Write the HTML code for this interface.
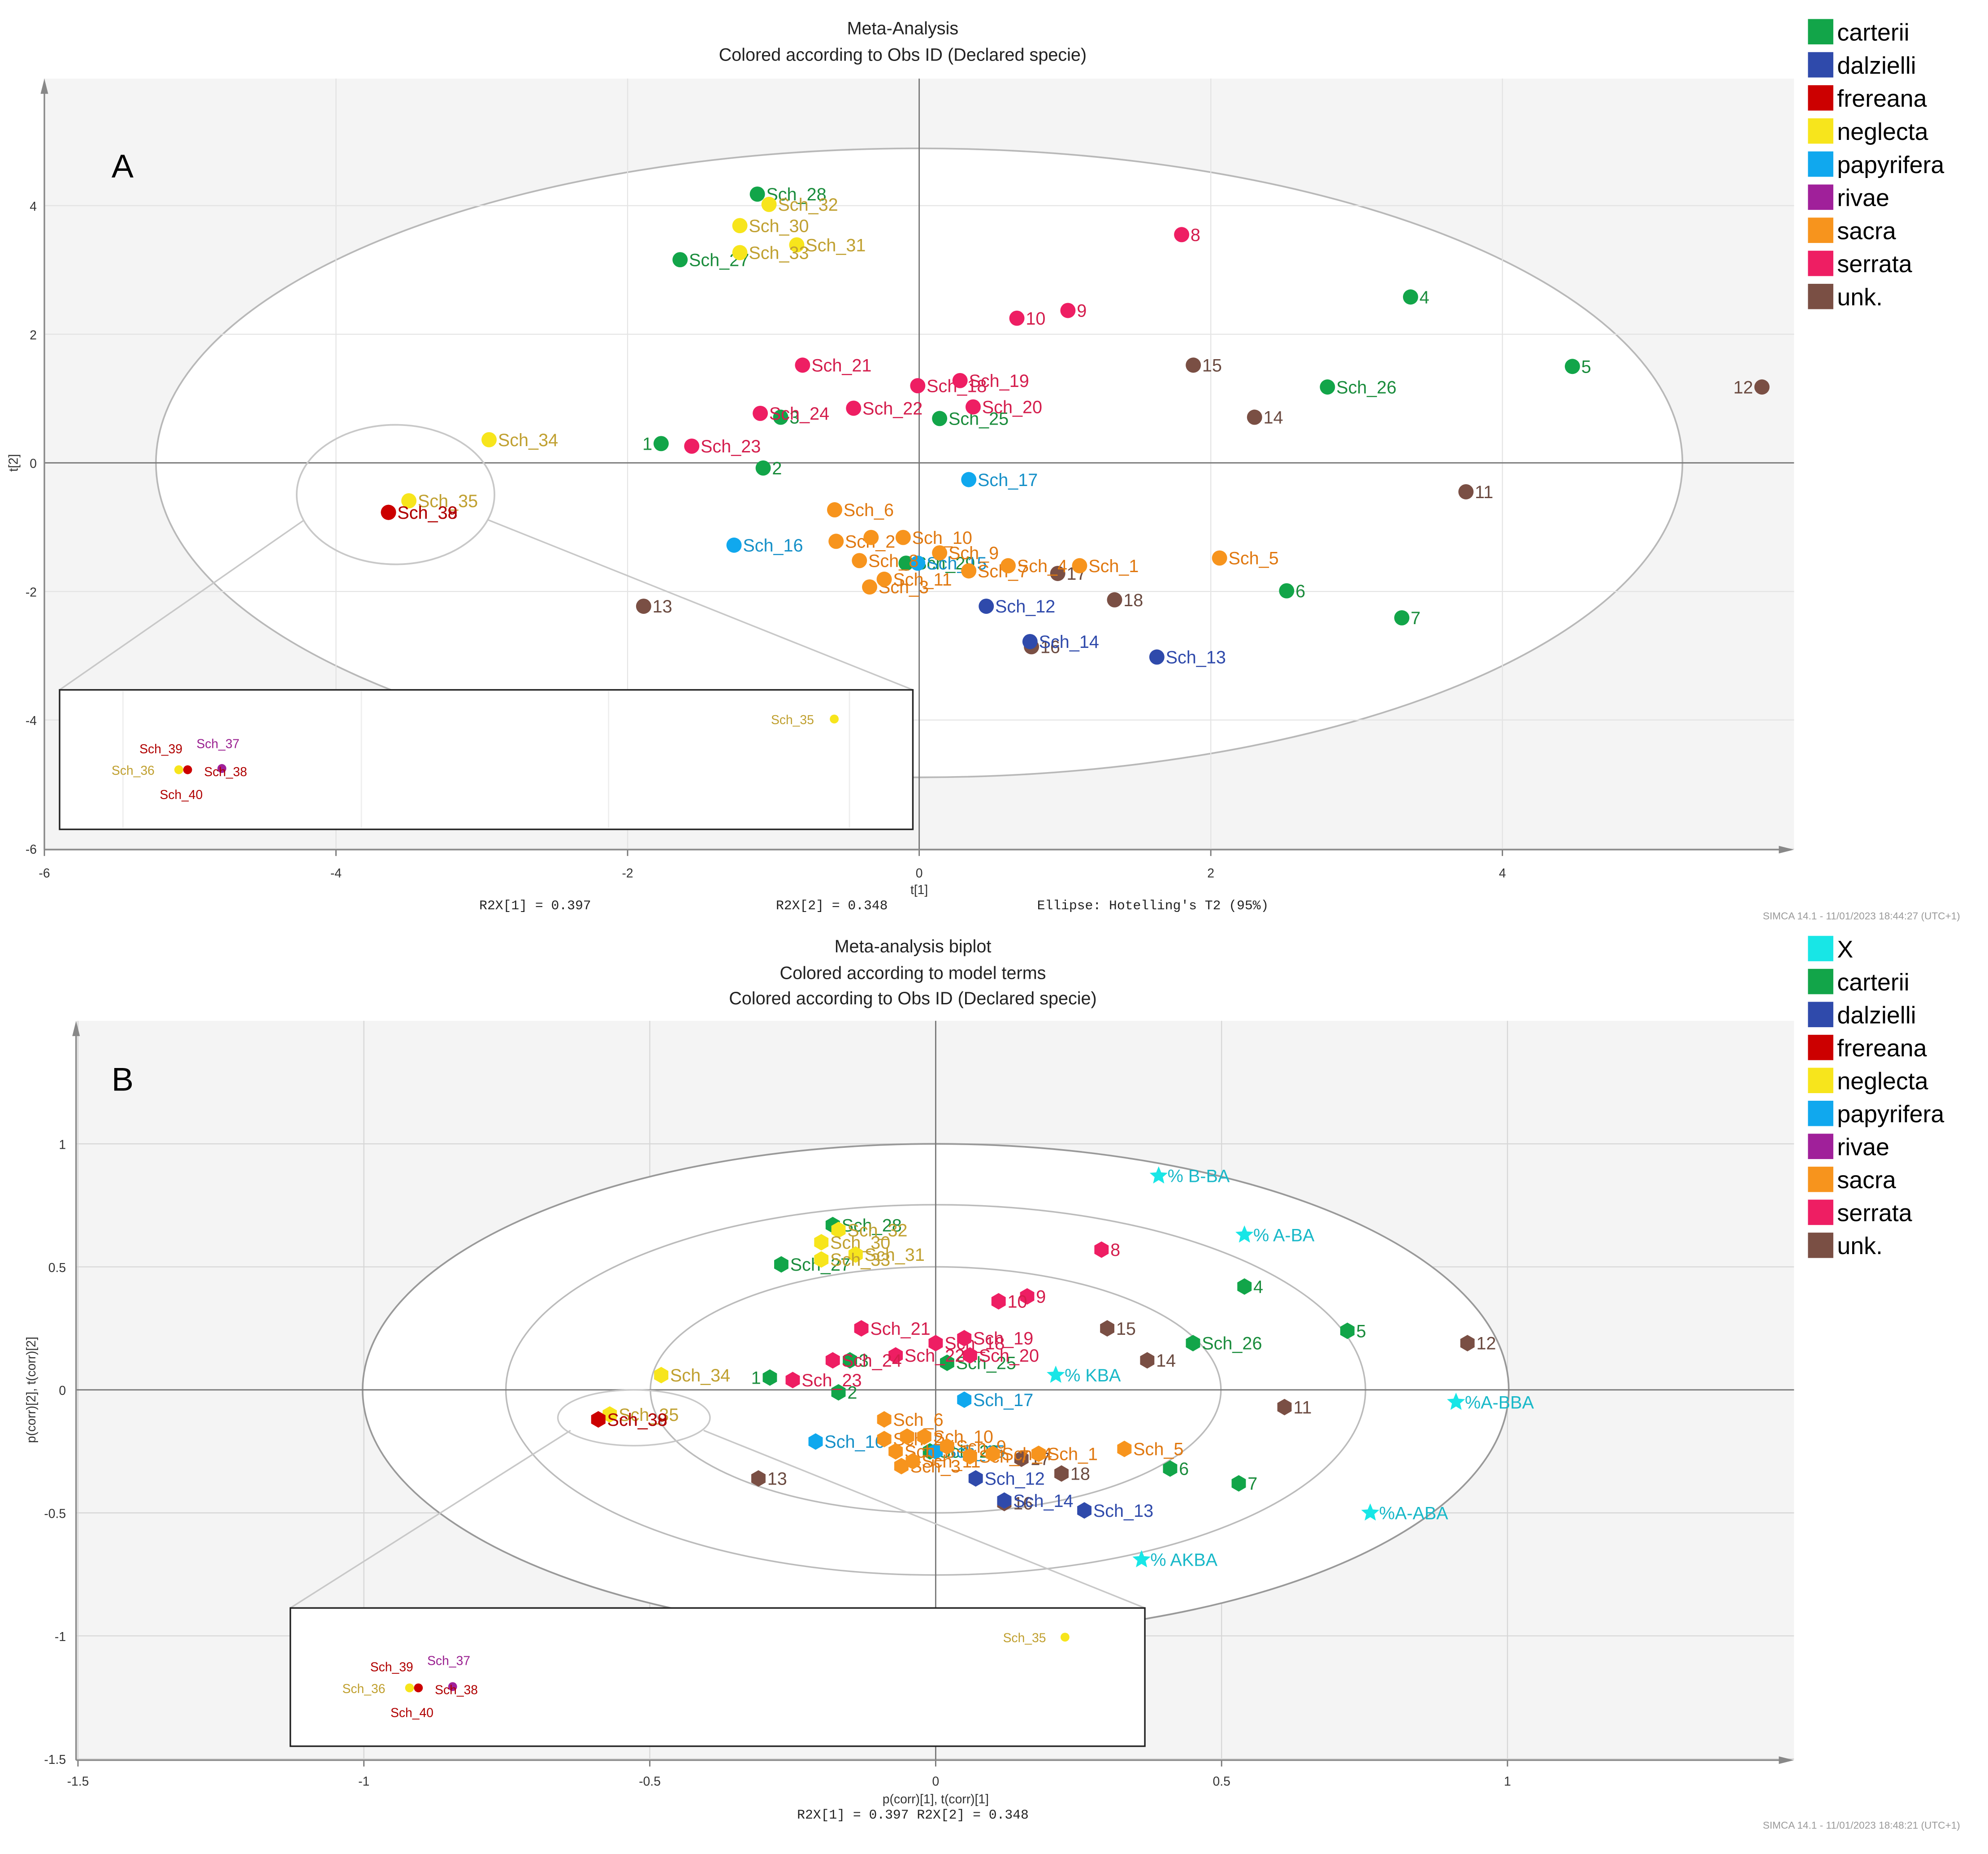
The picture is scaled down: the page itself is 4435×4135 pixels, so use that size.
<!DOCTYPE html>
<html><head><meta charset="utf-8"><style>
html,body{margin:0;padding:0;background:#fff;}
svg{display:block;font-family:"Liberation Sans",sans-serif;}
</style></head><body>
<svg id="root" width="4435" height="4135" viewBox="0 0 1568 1462" preserveAspectRatio="none" xmlns="http://www.w3.org/2000/svg">
<g id="panelA"></g>
<g id="panelB"></g>
</svg>
<script>
// ---------- Panel A data (t[1], t[2]) ----------
const namesA = ["Sch_28","Sch_27","1","3","2","Sch_25","Sch_29","4","5","Sch_26","6","7",
 "Sch_32","Sch_30","Sch_31","Sch_33","Sch_34","Sch_35",
 "8","9","10","Sch_21","Sch_18","Sch_19","Sch_20","Sch_22","Sch_24","Sch_23",
 "15","14","12","11","17","18","16","13",
 "Sch_17","Sch_16","Sch_15",
 "Sch_12","Sch_14","Sch_13",
 "Sch_6","Sch_2","Sch_8","Sch_3","Sch_11","Sch_10","Sch_9","Sch_7","Sch_4","Sch_1","Sch_5","",
 "Sch_39","Sch_38"];
const speciesA = ["carterii","carterii","carterii","carterii","carterii","carterii","carterii","carterii","carterii","carterii","carterii","carterii",
 "neglecta","neglecta","neglecta","neglecta","neglecta","neglecta",
 "serrata","serrata","serrata","serrata","serrata","serrata","serrata","serrata","serrata","serrata",
 "unk.","unk.","unk.","unk.","unk.","unk.","unk.","unk.",
 "papyrifera","papyrifera","papyrifera",
 "dalzielli","dalzielli","dalzielli",
 "sacra","sacra","sacra","sacra","sacra","sacra","sacra","sacra","sacra","sacra","sacra","sacra",
 "frereana","frereana"];
const t1 = [-1.11,-1.64,-1.77,-0.95,-1.07,0.14,-0.09,3.37,4.48,2.80,2.52,3.31,
 -1.03,-1.23,-0.84,-1.23,-2.95,-3.50,
 1.80,1.02,0.67,-0.80,-0.01,0.28,0.37,-0.45,-1.09,-1.56,
 1.88,2.30,5.78,3.75,0.95,1.34,0.77,-1.89,
 0.34,-1.27,-0.01,
 0.46,0.76,1.63,
 -0.58,-0.57,-0.41,-0.34,-0.24,-0.11,0.14,0.34,0.61,1.10,2.06,-0.33,
 -3.64,-3.64];
const t2 = [4.18,3.16,0.30,0.71,-0.08,0.69,-1.56,2.58,1.50,1.18,-1.99,-2.41,
 4.02,3.69,3.39,3.27,0.36,-0.59,
 3.55,2.37,2.25,1.52,1.20,1.28,0.87,0.85,0.77,0.26,
 1.52,0.71,1.18,-0.45,-1.72,-2.13,-2.86,-2.23,
 -0.26,-1.28,-1.56,
 -2.23,-2.78,-3.02,
 -0.73,-1.22,-1.52,-1.93,-1.81,-1.16,-1.40,-1.68,-1.60,-1.60,-1.48,-1.16,
 -0.77,-0.77];
const ticksAx = [-6,-4,-2,0,2,4];
const ticksAy = [-6,-4,-2,0,2,4];

// ---------- Panel B data (p(corr), t(corr)) ----------
const namesB = namesA;
const speciesB = speciesA;
const pc1 = [-0.18,-0.27,-0.29,-0.15,-0.17,0.02,-0.01,0.54,0.72,0.45,0.41,0.53,
 -0.17,-0.20,-0.14,-0.20,-0.48,-0.57,
 0.29,0.16,0.11,-0.13,0.00,0.05,0.06,-0.07,-0.18,-0.25,
 0.30,0.37,0.93,0.61,0.15,0.22,0.12,-0.31,
 0.05,-0.21,0.00,
 0.07,0.12,0.26,
 -0.09,-0.09,-0.07,-0.06,-0.04,-0.02,0.02,0.06,0.10,0.18,0.33,-0.05,
 -0.59,-0.59];
const pc2 = [0.67,0.51,0.05,0.12,-0.01,0.11,-0.25,0.42,0.24,0.19,-0.32,-0.38,
 0.65,0.60,0.55,0.53,0.06,-0.10,
 0.57,0.38,0.36,0.25,0.19,0.21,0.14,0.14,0.12,0.04,
 0.25,0.12,0.19,-0.07,-0.28,-0.34,-0.46,-0.36,
 -0.04,-0.21,-0.25,
 -0.36,-0.45,-0.49,
 -0.12,-0.20,-0.25,-0.31,-0.29,-0.19,-0.23,-0.27,-0.26,-0.26,-0.24,-0.19,
 -0.12,-0.12];
const loadNames = ["% B-BA","% A-BA","% KBA","%A-BBA","%A-ABA","% AKBA"];
const loadX = [0.39,0.54,0.21,0.91,0.76,0.36];
const loadY = [0.87,0.63,0.06,-0.05,-0.50,-0.69];
const ticksBx = [-1.5,-1,-0.5,0,0.5,1];
const ticksBy = [-1.5,-1,-0.5,0,0.5,1];

const legendA = ["carterii","dalzielli","frereana","neglecta","papyrifera","rivae","sacra","serrata","unk."];
const legendB = ["X","carterii","dalzielli","frereana","neglecta","papyrifera","rivae","sacra","serrata","unk."];

const fill = {"X":"#18e6e6","carterii":"#12a549","dalzielli":"#2f4aab","frereana":"#cc0000","neglecta":"#f7e51c","papyrifera":"#10a8ee","rivae":"#a0209a","sacra":"#f7941d","serrata":"#ee1e63","unk.":"#7a4f44"};
const txtc = {"carterii":"#1a8c3c","dalzielli":"#2f4aab","frereana":"#b00000","neglecta":"#c0a030","papyrifera":"#1590c8","rivae":"#9a2090","sacra":"#e07810","serrata":"#d41c4c","unk.":"#6a4a40"};
const leftLabel = new Set(["1","12"]);

const NS="http://www.w3.org/2000/svg";
function mk(tag, attrs, parent){const e=document.createElementNS(NS,tag);for(const k in attrs)e.setAttribute(k,attrs[k]);parent.appendChild(e);return e;}
function txt(s, attrs, parent){const e=mk("text",attrs,parent);e.textContent=s;return e;}
function hex(cx,cy,r){let p=[];for(let i=0;i<6;i++){const a=Math.PI/3*i+Math.PI/6;p.push((cx+r*Math.cos(a)).toFixed(2)+","+(cy+r*Math.sin(a)).toFixed(2));}return p.join(" ");}
function star(cx,cy,r){let p=[];for(let i=0;i<10;i++){const rr=i%2?r*0.45:r;const a=-Math.PI/2+Math.PI/5*i;p.push((cx+rr*Math.cos(a)).toFixed(2)+","+(cy+rr*Math.sin(a)).toFixed(2));}return p.join(" ");}

// ================= PANEL A =================
(function(){
const g=document.getElementById("panelA");
const xA=v=>725+v*115, yA=v=>365-v*50.7;
const L=35,R=1415,T=62,B=670;
const bg=mk("rect",{x:L,y:T,width:R-L,height:B-T,fill:"#f4f4f4"},g);


ticksAx.forEach(v=>{const l=mk("line",{x1:xA(v),x2:xA(v),y1:T,y2:B,stroke:"#d6d6d6","stroke-width":0.8},g);
 
 const t=txt(String(v),{x:xA(v),y:B+22,"font-size":10,"text-anchor":"middle",fill:"#333"},g);
 
 mk("line",{x1:xA(v),x2:xA(v),y1:B,y2:B+5,stroke:"#777"},g);});
ticksAy.forEach(v=>{const l=mk("line",{x1:L,x2:R,y1:yA(v),y2:yA(v),stroke:"#d6d6d6","stroke-width":0.8},g);
 
 const t=txt(String(v),{x:L-6,y:yA(v)+4,"font-size":10,"text-anchor":"end",fill:"#333"},g);
 });
const el=mk("ellipse",{cx:725,cy:365,rx:602,ry:248,fill:"#fff",stroke:"#b8b8b8","stroke-width":1.3},g);

ticksAx.forEach(v=>mk("line",{x1:xA(v),x2:xA(v),y1:T,y2:B,stroke:"#e4e4e4","stroke-width":0.8},g));
ticksAy.forEach(v=>mk("line",{x1:L,x2:R,y1:yA(v),y2:yA(v),stroke:"#e4e4e4","stroke-width":0.8},g));
mk("line",{x1:725,x2:725,y1:T,y2:B,stroke:"#777","stroke-width":1},g);
mk("line",{x1:L,x2:R,y1:365,y2:365,stroke:"#777","stroke-width":1},g);
mk("line",{x1:L,x2:L,y1:B,y2:T+8,stroke:"#888","stroke-width":1.2},g);
mk("polygon",{points:`${L-3},${T+12} ${L+3},${T+12} ${L},${T}`,fill:"#888"},g);
mk("line",{x1:L,x2:R-8,y1:B,y2:B,stroke:"#888","stroke-width":1.2},g);
mk("polygon",{points:`${R-12},${B-3} ${R-12},${B+3} ${R},${B}`,fill:"#888"},g);
mk("ellipse",{cx:312,cy:390,rx:78,ry:55,fill:"none",stroke:"#c8c8c8","stroke-width":1.3},g);
mk("line",{x1:240,y1:410,x2:47,y2:544,stroke:"#c8c8c8","stroke-width":1.2},g);
mk("line",{x1:385,y1:410,x2:720,y2:544,stroke:"#c8c8c8","stroke-width":1.2},g);
const lab=txt("A",{x:88,y:140,"font-size":26,fill:"#000"},g);

t1.forEach((v,i)=>{
 const cx=xA(v),cy=yA(t2[i]);
 const c=mk("circle",{cx:cx,cy:cy,r:6,fill:fill[speciesA[i]]},g);
 
 
 if(namesA[i]){
  const left=leftLabel.has(namesA[i]);
  const t=txt(namesA[i],{x:left?cx-7:cx+7,y:cy+5,"font-size":14,"text-anchor":left?"end":"start",fill:txtc[speciesA[i]]},g);
  
  
 }});
const ins=mk("rect",{x:47,y:544,width:673,height:110,fill:"#fff",stroke:"#222","stroke-width":1.2},g);

[97,285,480,670].forEach(x=>mk("line",{x1:x,x2:x,y1:545,y2:653,stroke:"#eee"},g));
mk("circle",{cx:658,cy:567,r:3.5,fill:fill.neglecta},g);
txt("Sch_35",{x:642,y:571,"font-size":10,"text-anchor":"end",fill:txtc.neglecta},g);
mk("circle",{cx:141,cy:607,r:3.5,fill:fill.neglecta},g);
mk("circle",{cx:148,cy:607,r:3.5,fill:fill.frereana},g);
mk("circle",{cx:175,cy:606,r:3.5,fill:fill.rivae},g);
txt("Sch_39",{x:110,y:594,"font-size":10,fill:txtc.frereana},g);
txt("Sch_37",{x:155,y:590,"font-size":10,fill:txtc.rivae},g);
txt("Sch_36",{x:88,y:611,"font-size":10,fill:txtc.neglecta},g);
txt("Sch_38",{x:161,y:612,"font-size":10,fill:txtc.frereana},g);
txt("Sch_40",{x:126,y:630,"font-size":10,fill:txtc.frereana},g);
txt("Meta-Analysis",{x:712,y:27,"font-size":14,"text-anchor":"middle",fill:"#222"},g);
txt("Colored according to Obs ID (Declared specie)",{x:712,y:48,"font-size":14,"text-anchor":"middle",fill:"#222"},g);
txt("t[1]",{x:725,y:705,"font-size":10,"text-anchor":"middle",fill:"#333"},g);
txt("t[2]",{x:14,y:365,"font-size":10,"text-anchor":"middle",fill:"#333",transform:"rotate(-90 14 365)"},g);
const mono={"font-size":10.5,fill:"#222","font-family":"Liberation Mono, monospace"};
txt("R2X[1] = 0.397",{x:378,y:717,...mono},g);
txt("R2X[2] = 0.348",{x:612,y:717,...mono},g);
txt("Ellipse: Hotelling's T2 (95%)",{x:818,y:717,...mono},g);
txt("SIMCA 14.1 - 11/01/2023 18:44:27 (UTC+1)",{x:1546,y:725,"font-size":8,"text-anchor":"end",fill:"#999"},g);
legendA.forEach((s,i)=>{const y=15+i*26.1;
 const r=mk("rect",{x:1426,y:y,width:20,height:20,fill:fill[s]},g);
 
 const t=txt(s,{x:1449,y:y+17,"font-size":19,fill:"#000"},g);
 });
})();

// ================= PANEL B =================
(function(){
const g=document.getElementById("panelB");
const xB=v=>738+v*451, yB=v=>1096-v*194;
const L=60,R=1415,T=805,B=1388;
mk("rect",{x:L,y:T,width:R-L,height:B-T,fill:"#f4f4f4"},g);
ticksBx.forEach(v=>{mk("line",{x1:xB(v),x2:xB(v),y1:T,y2:B,stroke:"#d6d6d6","stroke-width":0.8},g);
 const t=txt(String(v),{x:xB(v),y:B+20,"font-size":10,"text-anchor":"middle",fill:"#333"},g);
 
 mk("line",{x1:xB(v),x2:xB(v),y1:B,y2:B+5,stroke:"#777"},g);});
ticksBy.forEach(v=>{mk("line",{x1:L,x2:R,y1:yB(v),y2:yB(v),stroke:"#d6d6d6","stroke-width":0.8},g);
 const t=txt(String(v),{x:L-8,y:yB(v)+4,"font-size":10,"text-anchor":"end",fill:"#333"},g);
 });
const e1=mk("ellipse",{cx:738,cy:1096,rx:452,ry:194,fill:"#fff",stroke:"#999","stroke-width":1.3},g);

mk("ellipse",{cx:738,cy:1096,rx:339,ry:146,fill:"none",stroke:"#bbb","stroke-width":1.2},g);
mk("ellipse",{cx:738,cy:1096,rx:225,ry:97,fill:"none",stroke:"#bbb","stroke-width":1.2},g);
mk("line",{x1:738,x2:738,y1:T,y2:B,stroke:"#777"},g);
mk("line",{x1:L,x2:R,y1:1096,y2:1096,stroke:"#777"},g);
mk("line",{x1:L,x2:L,y1:B,y2:T+8,stroke:"#888","stroke-width":1.2},g);
mk("polygon",{points:`${L-3},${T+12} ${L+3},${T+12} ${L},${T}`,fill:"#888"},g);
mk("line",{x1:L,x2:R-8,y1:B,y2:B,stroke:"#888","stroke-width":1.2},g);
mk("polygon",{points:`${R-12},${B-3} ${R-12},${B+3} ${R},${B}`,fill:"#888"},g);
mk("ellipse",{cx:500,cy:1118,rx:60,ry:22,fill:"none",stroke:"#c8c8c8","stroke-width":1.2},g);
mk("line",{x1:450,y1:1128,x2:229,y2:1268,stroke:"#c8c8c8","stroke-width":1.2},g);
mk("line",{x1:555,y1:1128,x2:903,y2:1268,stroke:"#c8c8c8","stroke-width":1.2},g);
txt("B",{x:88,y:860,"font-size":26,fill:"#000"},g);
pc1.forEach((v,i)=>{
 const cx=xB(v),cy=yB(pc2[i]);
 const h=mk("polygon",{points:hex(cx,cy,6.5),fill:fill[speciesB[i]]},g);
 
 
 if(namesB[i]){
  const left=leftLabel.has(namesB[i]) && namesB[i]!=="12";
  const t=txt(namesB[i],{x:left?cx-7:cx+7,y:cy+5,"font-size":14,"text-anchor":left?"end":"start",fill:txtc[speciesB[i]]},g);
  
  
 }});
loadX.forEach((v,i)=>{
 const cx=xB(v),cy=yB(loadY[i]);
 const s=mk("polygon",{points:star(cx,cy,7.5),fill:fill.X},g);
 
 
 const t=txt(loadNames[i],{x:cx+7,y:cy+5,"font-size":14,fill:"#18b8c8"},g);
 
 
});
const ins=mk("rect",{x:229,y:1268,width:674,height:109,fill:"#fff",stroke:"#222","stroke-width":1.2},g);

mk("circle",{cx:840,cy:1291,r:3.5,fill:fill.neglecta},g);
txt("Sch_35",{x:825,y:1295,"font-size":10,"text-anchor":"end",fill:txtc.neglecta},g);
mk("circle",{cx:323,cy:1331,r:3.5,fill:fill.neglecta},g);
mk("circle",{cx:330,cy:1331,r:3.5,fill:fill.frereana},g);
mk("circle",{cx:357,cy:1330,r:3.5,fill:fill.rivae},g);
txt("Sch_39",{x:292,y:1318,"font-size":10,fill:txtc.frereana},g);
txt("Sch_37",{x:337,y:1313,"font-size":10,fill:txtc.rivae},g);
txt("Sch_36",{x:270,y:1335,"font-size":10,fill:txtc.neglecta},g);
txt("Sch_38",{x:343,y:1336,"font-size":10,fill:txtc.frereana},g);
txt("Sch_40",{x:308,y:1354,"font-size":10,fill:txtc.frereana},g);
txt("Meta-analysis biplot",{x:720,y:751,"font-size":14,"text-anchor":"middle",fill:"#222"},g);
txt("Colored according to model terms",{x:720,y:772,"font-size":14,"text-anchor":"middle",fill:"#222"},g);
txt("Colored according to Obs ID (Declared specie)",{x:720,y:792,"font-size":14,"text-anchor":"middle",fill:"#222"},g);
txt("p(corr)[1], t(corr)[1]",{x:738,y:1422,"font-size":10,"text-anchor":"middle",fill:"#333"},g);
txt("p(corr)[2], t(corr)[2]",{x:28,y:1096,"font-size":10,"text-anchor":"middle",fill:"#333",transform:"rotate(-90 28 1096)"},g);
txt("R2X[1] = 0.397 R2X[2] = 0.348",{x:720,y:1434,"font-size":10.5,"text-anchor":"middle",fill:"#222","font-family":"Liberation Mono, monospace"},g);
txt("SIMCA 14.1 - 11/01/2023 18:48:21 (UTC+1)",{x:1546,y:1442,"font-size":8,"text-anchor":"end",fill:"#999"},g);
legendB.forEach((s,i)=>{const y=738+i*26;
 const r=mk("rect",{x:1426,y:y,width:20,height:20,fill:fill[s]},g);
 
 const t=txt(s,{x:1449,y:y+17,"font-size":19,fill:"#000"},g);
 });
})();
</script>
</body></html>
